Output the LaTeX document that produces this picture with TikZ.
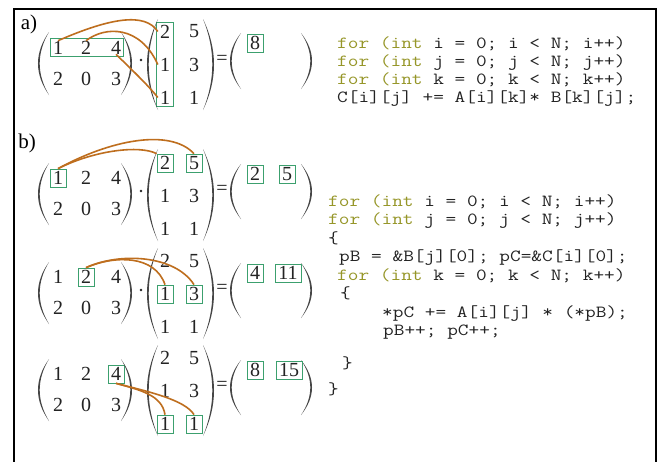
\documentclass[tikz,border=0pt]{standalone}
\usepackage{fontspec}
\usepackage{graphicx}
\setmainfont{Liberation Serif}
\usetikzlibrary{fit,calc}
\definecolor{boxgreen}{RGB}{60,160,110}
\definecolor{curvecol}{RGB}{190,110,30}
\definecolor{kw}{RGB}{150,150,40}
\definecolor{ink}{RGB}{35,35,35}
\definecolor{parcol}{RGB}{70,70,70}
\newcommand\cl[1]{\scalebox{1.22}[1]{#1}}
% left paren: left x, top y, bottom y
\newcommand\LPar[3]{\fill[parcol] ({#1+11},{#2}) .. controls ({#1-3.67},{#2+(#3-#2)/3}) and ({#1-3.67},{#3-(#3-#2)/3}) .. ({#1+11},{#3}) .. controls ({#1-1.4},{#3-(#3-#2)/3}) and ({#1-1.4},{#2+(#3-#2)/3}) .. ({#1+11},{#2}) -- cycle;}
% right paren: right x, top y, bottom y
\newcommand\RPar[3]{\fill[parcol] ({#1-11},{#2}) .. controls ({#1+3.67},{#2+(#3-#2)/3}) and ({#1+3.67},{#3-(#3-#2)/3}) .. ({#1-11},{#3}) .. controls ({#1+1.4},{#3-(#3-#2)/3}) and ({#1+1.4},{#2+(#3-#2)/3}) .. ({#1-11},{#2}) -- cycle;}
\begin{document}
\begin{tikzpicture}[x=1pt,y=-1pt,
  dig/.style={font=\fontsize{20}{20}\selectfont, text=ink, inner sep=0pt},
  bxd/.style={dig, draw=boxgreen, line width=0.7pt, minimum width=16pt, minimum height=18pt},
  bxw/.style={bxd, minimum width=26pt},
  grpbox/.style={draw=boxgreen, line width=0.7pt, inner xsep=2.5pt, inner ysep=2.2pt},
  code/.style={font=\ttfamily\fontsize{17}{17}\selectfont, text=ink, inner sep=0pt, anchor=base west},
  link/.style={draw=curvecol, line width=1.6pt},
  lbl/.style={font=\fontsize{21}{21}\selectfont, text=black, inner sep=0pt},
  dotn/.style={circle, fill=ink, inner sep=0pt, minimum size=2.8pt}]
\useasboundingbox (0,0) rectangle (661,461);
\fill[white] (0,0) rectangle (661,461);
\draw[line width=2.2pt, black] (14,463) -- (14,9) -- (656,9) -- (656,463);

% ---------------- a) ----------------
\node[lbl] (la) at (29,24) {a)};
\node[dig] (aA11) at (58,47.5) {1};
\node[dig] (aA12) at (86,47.5) {2};
\node[dig] (aA13) at (116,47.5) {4};
\node[dig] (aA21) at (58,78.5) {2};
\node[dig] (aA22) at (86,78.5) {0};
\node[dig] (aA23) at (116,78.5) {3};
\node[grpbox, fit=(aA11)(aA13)] (aArow) {};
\LPar{38}{32}{95}
\RPar{132}{32}{95}
\node[dotn] (adot) at (141,60) {};
\node[dig] (aB11) at (165,31.5) {2};
\node[dig] (aB12) at (194,31.5) {5};
\node[dig] (aB21) at (165,64.5) {1};
\node[dig] (aB22) at (194,64.5) {3};
\node[dig] (aB31) at (165,97.5) {1};
\node[dig] (aB32) at (194,97.5) {1};
\node[grpbox, inner xsep=3pt, fit=(aB11)(aB31)] (aBcol) {};
\LPar{147}{19}{110}
\RPar{214}{19}{110}
\node[dig] (aeq) at (222,60) {=};
\LPar{230}{33}{89}
\RPar{312}{33}{89}
\node[bxd] (aC11) at (255,43) {8};
\draw[link] (aA11.north) .. controls (110,18) and (145,12) .. ($(aB11.west)+(-2,0)$);
\draw[link] (aA12.north) .. controls (105,26) and (140,25) .. ($(aB21.west)+(-2,0)$);
\draw[link] (aA13.south) .. controls (130,68) and (148,85) .. ($(aB31.west)+(-2,0)$);

\node[code] (ca1) at (337,48) {\cl{\textcolor{kw}{for (int} i = 0; i < N; i++)}};
\node[code] (ca2) at (337,66) {\cl{\textcolor{kw}{for (int} j = 0; j < N; j++)}};
\node[code] (ca3) at (337,84) {\cl{\textcolor{kw}{for (int} k = 0; k < N; k++)}};
\node[code] (ca4) at (337,102) {\cl{C[i][j] += A[i][k]* B[k][j];}};

% ---------------- b) ----------------
\node[lbl] (lb) at (27,143) {b)};
% b1
\node[bxd] (bA11) at (58,178) {1};
\node[dig] (bA12) at (86,178) {2};
\node[dig] (bA13) at (116,178) {4};
\node[dig] (bA21) at (58,209) {2};
\node[dig] (bA22) at (86,209) {0};
\node[dig] (bA23) at (116,209) {3};
\LPar{38}{163}{225}
\RPar{132}{163}{225}
\node[dotn] (bdot) at (141,191) {};
\node[bxd] (bB11) at (165,163) {2};
\node[bxd] (bB12) at (194,163) {5};
\node[dig] (bB21) at (165,196) {1};
\node[dig] (bB22) at (194,196) {3};
\node[dig] (bB31) at (165,229) {1};
\node[dig] (bB32) at (194,229) {1};
\LPar{147}{149}{241}
\RPar{214}{149}{241}
\node[dig] (beq) at (222,190) {=};
\LPar{230}{164}{219}
\RPar{312}{164}{219}
\node[bxd] (bC11) at (255,174) {2};
\node[bxd] (bC12) at (287,174) {5};
\draw[link] (bA11.north) .. controls (95,150) and (140,145) .. (bB11.north west);
\draw[link] (bA11.north) .. controls (110,140) and (170,128) .. (bB12.north);

% b2
\node[dig] (cA11) at (58,277) {1};
\node[bxd] (cA12) at (86,277) {2};
\node[dig] (cA13) at (116,277) {4};
\node[dig] (cA21) at (58,308) {2};
\node[dig] (cA22) at (86,308) {0};
\node[dig] (cA23) at (116,308) {3};
\LPar{38}{262}{324}
\RPar{132}{262}{324}
\node[dotn] (cdot) at (141,290) {};
\node[dig] (cB11) at (165,261) {2};
\node[dig] (cB12) at (194,261) {5};
\node[bxd] (cB21) at (165,294) {1};
\node[bxd] (cB22) at (194,294) {3};
\node[dig] (cB31) at (165,327) {1};
\node[dig] (cB32) at (194,327) {1};
\LPar{147}{248}{339}
\RPar{214}{248}{339}
\node[dig] (ceq) at (222,289) {=};
\LPar{230}{263}{318}
\RPar{312}{263}{318}
\node[bxd] (cC11) at (255,273) {4};
\node[bxw] (cC12) at (288,273) {11};
\draw[link] (cA12.north) .. controls (115,255) and (155,255) .. (cB21.north);
\draw[link] (cA12.north) .. controls (120,252) and (175,255) .. (cB22.north);

% b3
\node[dig] (dA11) at (58,374) {1};
\node[dig] (dA12) at (86,374) {2};
\node[bxd] (dA13) at (116,374) {4};
\node[dig] (dA21) at (58,405) {2};
\node[dig] (dA22) at (86,405) {0};
\node[dig] (dA23) at (116,405) {3};
\LPar{38}{359}{421}
\RPar{132}{359}{421}
\node[dig] (dB11) at (165,358) {2};
\node[dig] (dB12) at (194,358) {5};
\node[dig] (dB21) at (165,391) {1};
\node[dig] (dB22) at (194,391) {3};
\node[bxd] (dB31) at (165,424) {1};
\node[bxd] (dB32) at (194,424) {1};
\LPar{147}{345}{436}
\RPar{214}{345}{436}
\node[dig] (deq) at (222,386) {=};
\LPar{230}{360}{415}
\RPar{312}{360}{415}
\node[bxd] (dC11) at (255,370) {8};
\node[bxw] (dC12) at (289,370) {15};
\draw[link] (dA13.south) .. controls (140,390) and (162,395) .. (dB31.north);
\draw[link] (dA13.south) .. controls (150,392) and (185,400) .. (dB32.north);

% code b)
\node[code] (cb1) at (328,206) {\cl{\textcolor{kw}{for (int} i = 0; i < N; i++)}};
\node[code] (cb2) at (328,224.5) {\cl{\textcolor{kw}{for (int} j = 0; j < N; j++)}};
\node[code] (cb3) at (328,243) {\cl{\{}};
\node[code] (cb4) at (339,261.5) {\cl{pB = \&B[j][0]; pC=\&C[i][0];}};
\node[code] (cb5) at (337,280) {\cl{\textcolor{kw}{for (int} k = 0; k < N; k++)}};
\node[code] (cb6) at (340,298.5) {\cl{\{}};
\node[code] (cb7) at (382,317) {\cl{*pC += A[i][j] * (*pB);}};
\node[code] (cb8) at (383,335.5) {\cl{pB++; pC++;}};
\node[code] (cb9) at (342,368) {\cl{\}}};
\node[code] (cb10) at (328,394) {\cl{\}}};
\end{tikzpicture}
\end{document}
